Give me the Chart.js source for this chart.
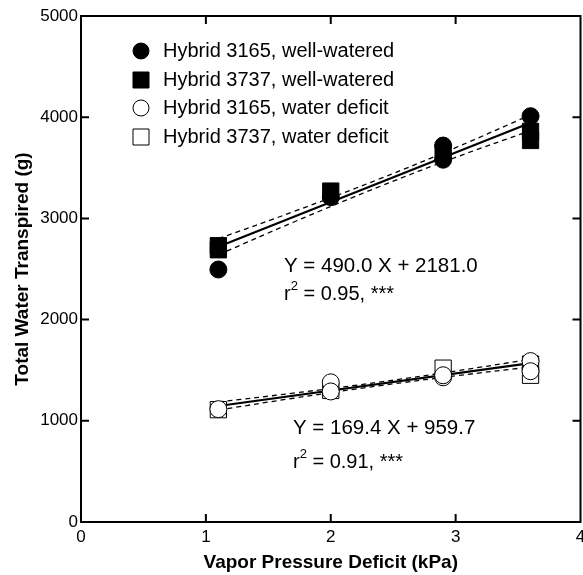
<!DOCTYPE html>
<html>
<head>
<meta charset="utf-8">
<script src="https://cdn.jsdelivr.net/npm/chart.js@4.4.1/dist/chart.umd.min.js"></script>
<style>
  html, body { margin: 0; padding: 0; background: #fff; overflow: hidden; }
  #wrap { width: 583px; height: 575px; overflow: hidden; }
</style>
</head>
<body>
<div id="wrap"><canvas id="vpdChart" width="593" height="575"></canvas></div>
<script>
// data
const xTicks = [0, 1, 2, 3, 4];
const yTicks = [0, 1000, 2000, 3000, 4000, 5000];

const ww3165X = [1.1, 2.0, 2.9, 2.9, 3.6];
const ww3165Y = [2495, 3210, 3580, 3720, 4010];
const ww3737X = [1.1, 1.1, 2.0, 2.9, 3.6, 3.6];
const ww3737Y = [2730, 2690, 3270, 3650, 3770, 3860];
const wd3165X = [1.1, 2.0, 2.0, 2.9, 2.9, 3.6, 3.6];
const wd3165Y = [1115, 1380, 1290, 1430, 1450, 1590, 1490];
const wd3737X = [1.1, 2.0, 2.9, 3.6, 3.6];
const wd3737Y = [1110, 1300, 1520, 1560, 1450];

// fitted lines (ends) and confidence bands
const fitX = [1.1, 3.6];
const wwFitY = [2720, 3945];
const wdFitY = [1146, 1570];
const bandX = [1.1, 1.7, 2.4, 3.0, 3.6];
const wwUpper = [2800, 3066, 3395, 3699, 4023];
const wwLower = [2640, 2962, 3319, 3603, 3867];
const wdUpper = [1186, 1273, 1384, 1492, 1608];
const wdLower = [1106, 1223, 1348, 1444, 1532];

const legendLabels = [
  'Hybrid 3165, well-watered',
  'Hybrid 3737, well-watered',
  'Hybrid 3165, water deficit',
  'Hybrid 3737, water deficit'
];

const FONT = '"Liberation Sans", Arial, sans-serif';

const toPts = (xs, ys) => xs.map((x, i) => ({ x: x, y: ys[i] }));

const pointSet = (xs, ys, style, filled) => ({
  type: 'scatter',
  data: toPts(xs, ys),
  pointStyle: style,
  pointRadius: style === 'rect' ? 11.5 : 8.5,
  pointBackgroundColor: filled ? '#000' : '#fff',
  pointBorderColor: '#000',
  pointBorderWidth: 1,
  showLine: false
});

const lineSet = (xs, ys, dashed) => ({
  type: 'line',
  data: toPts(xs, ys),
  borderColor: '#000',
  borderWidth: dashed ? 1.3 : 2.2,
  borderDash: dashed ? [5, 4] : [],
  tension: dashed ? 0.4 : 0,
  pointRadius: 0,
  fill: false
});

// box with inward ticks, legend and equations
const decorPlugin = {
  id: 'decor',
  afterDraw(chart) {
    const ctx = chart.ctx;
    const a = chart.chartArea;
    const xs = chart.scales.x;
    const ys = chart.scales.y;
    ctx.save();
    ctx.strokeStyle = '#000';
    ctx.lineWidth = 2;
    ctx.strokeRect(a.left, a.top, a.right - a.left, a.bottom - a.top);
    const tl = 8;
    ctx.beginPath();
    xTicks.slice(1, -1).forEach(v => {
      const px = xs.getPixelForValue(v);
      ctx.moveTo(px, a.bottom); ctx.lineTo(px, a.bottom - tl);
      ctx.moveTo(px, a.top); ctx.lineTo(px, a.top + tl);
    });
    yTicks.slice(1, -1).forEach(v => {
      const py = ys.getPixelForValue(v);
      ctx.moveTo(a.left, py); ctx.lineTo(a.left + tl, py);
      ctx.moveTo(a.right, py); ctx.lineTo(a.right - tl, py);
    });
    ctx.stroke();

    // legend
    const rows = [51, 80, 108, 137];
    ctx.font = '20px ' + FONT;
    ctx.textBaseline = 'middle';
    ctx.fillStyle = '#000';
    ctx.lineWidth = 1;
    legendLabels.forEach((txt, i) => {
      const cx = 141, cy = rows[i];
      ctx.beginPath();
      if (i % 2 === 0) {
        ctx.arc(cx, cy, 8, 0, Math.PI * 2);
      } else {
        ctx.rect(cx - 8, cy - 8, 16, 16);
      }
      ctx.fillStyle = i < 2 ? '#000' : '#fff';
      ctx.fill();
      ctx.stroke();
      ctx.fillStyle = '#000';
      ctx.fillText(txt, 163, cy);
    });

    // equations
    const rSquared = (x, y, val) => {
      ctx.font = '20px ' + FONT;
      ctx.fillText('r', x, y);
      let w = ctx.measureText('r').width;
      ctx.font = '13px ' + FONT;
      ctx.fillText('2', x + w, y - 8);
      w += ctx.measureText('2').width;
      ctx.font = '20px ' + FONT;
      ctx.fillText(' = ' + val + ', ***', x + w, y);
    };
    ctx.font = '20.5px ' + FONT;
    ctx.fillText('Y = 490.0 X + 2181.0', 284, 266);
    ctx.fillText('Y = 169.4 X + 959.7', 293, 428);
    rSquared(284, 294, '0.95');
    rSquared(293, 462, '0.91');
    ctx.restore();
  }
};

document.addEventListener('DOMContentLoaded', function() {
  const ctx = document.getElementById('vpdChart').getContext('2d');
  new Chart(ctx, {
    data: {
      datasets: [
        pointSet(wd3165X, wd3165Y, 'circle', false),
        pointSet(wd3737X, wd3737Y, 'rect', false),
        pointSet(ww3165X, ww3165Y, 'circle', true),
        pointSet(ww3737X, ww3737Y, 'rect', true),
        lineSet(fitX, wwFitY, false),
        lineSet(fitX, wdFitY, false),
        lineSet(bandX, wwUpper, true),
        lineSet(bandX, wwLower, true),
        lineSet(bandX, wdUpper, true),
        lineSet(bandX, wdLower, true)
      ]
    },
    options: {
      responsive: false,
      devicePixelRatio: 1,
      animation: false,
      layout: { padding: { top: 16, right: 3, left: 0, bottom: 0 } },
      plugins: {
        legend: { display: false },
        tooltip: { enabled: false }
      },
      scales: {
        x: {
          type: 'linear',
          min: 0,
          max: 4,
          afterBuildTicks: s => { s.ticks = xTicks.map(v => ({ value: v })); },
          afterFit: s => { s.height = 53; },
          grid: { display: false, drawTicks: false },
          border: { display: false },
          ticks: {
            color: '#000',
            padding: 5,
            font: { size: 17, family: FONT },
            maxRotation: 0,
            callback: v => String(v)
          },
          title: {
            display: true,
            text: 'Vapor Pressure Deficit (kPa)',
            color: '#000',
            font: { size: 19, weight: 'bold', family: FONT },
            padding: { top: 0, bottom: 1 }
          }
        },
        y: {
          type: 'linear',
          min: 0,
          max: 5000,
          afterBuildTicks: s => { s.ticks = yTicks.map(v => ({ value: v })); },
          afterFit: s => { s.width = 81; },
          grid: { display: false, drawTicks: false },
          border: { display: false },
          ticks: {
            color: '#000',
            padding: 3,
            font: { size: 17, family: FONT },
            callback: v => String(v)
          },
          title: {
            display: true,
            text: 'Total Water Transpired (g)',
            color: '#000',
            font: { size: 19, weight: 'bold', family: FONT },
            padding: { top: 11, bottom: 0 }
          }
        }
      }
    },
    plugins: [decorPlugin]
  });
});
</script>
</body>
</html>
